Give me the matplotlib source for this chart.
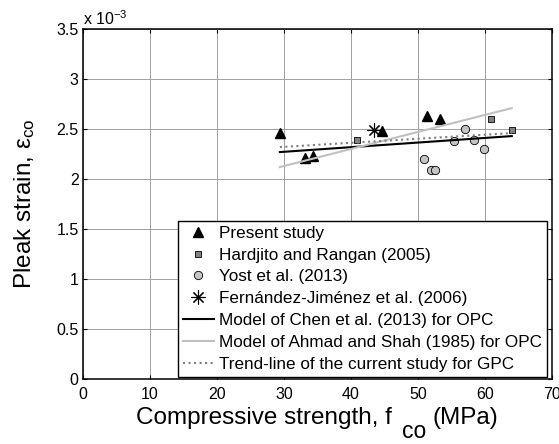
import numpy as np
import matplotlib
matplotlib.use("Agg")
from matplotlib import pyplot as plt

plt.rcParams['font.family'] = ['Liberation Sans', 'DejaVu Sans']
plt.rcParams['mathtext.fontset'] = 'custom'
plt.rcParams['mathtext.rm'] = 'Liberation Sans'
plt.rcParams['mathtext.it'] = 'Liberation Sans'

# peak strain values are in units of 1e-3
present_fc = [29.4, 33.1, 34.4, 44.6, 51.4, 53.3]
present_eps = [2.46, 2.21, 2.23, 2.48, 2.63, 2.60]

hardjito_fc = [40.9, 60.9, 64.0]
hardjito_eps = [2.39, 2.60, 2.49]

yost_fc = [50.9, 51.9, 52.5, 55.4, 57.0, 58.4, 59.9]
yost_eps = [2.20, 2.09, 2.09, 2.38, 2.50, 2.39, 2.30]

fernandez_fc = [43.4]
fernandez_eps = [2.49]

line_fc = [29.4, 64.0]
chen_eps = [2.27, 2.43]
ahmad_eps = [2.12, 2.71]
trend_eps = [2.32, 2.46]

xticks = [0, 10, 20, 30, 40, 50, 60, 70]
yticks = [0, 0.5, 1, 1.5, 2, 2.5, 3, 3.5]
ytick_labels = ['0', '0.5', '1', '1.5', '2', '2.5', '3', '3.5']

W, H = 559, 444
fig = plt.figure(figsize=(W / 100, H / 100), dpi=100)
ax = fig.add_axes([0.148, 0.1464, 0.8395, 0.788])

ax.plot(present_fc, present_eps, '^', color='black', markersize=6.5, label='Present study')
ax.plot(hardjito_fc, hardjito_eps, 's', color='#808080', markeredgecolor='black',
        markeredgewidth=0.6, markersize=5, label='Hardjito and Rangan (2005)')
ax.plot(yost_fc, yost_eps, 'o', color='#c4c4c4', markeredgecolor='black',
        markeredgewidth=0.6, markersize=6, label='Yost et al. (2013)')
ax.plot(fernandez_fc, fernandez_eps, marker=(8, 2, 0), linestyle='none', color='black',
        markeredgewidth=0.8, markersize=10, label='Fernández-Jiménez et al. (2006)')
ax.plot(line_fc, chen_eps, '-', color='black', linewidth=1.5, label='Model of Chen et al. (2013) for OPC')
ax.plot(line_fc, ahmad_eps, '-', color='#c0c0c0', linewidth=1.5, label='Model of Ahmad and Shah (1985) for OPC')
ax.plot(line_fc, trend_eps, ':', color='#808080', linewidth=1.5, label='Trend-line of the current study for GPC')

ax.set_xlim(0, 70)
ax.set_ylim(0, 3.5)
ax.set_xticks(xticks)
ax.set_yticks(yticks)
ax.set_yticklabels(ytick_labels)
ax.tick_params(direction='in', length=3, width=0.8, top=True, right=True, labelsize=11.5)
ax.tick_params(axis='x', pad=6)
ax.tick_params(axis='y', pad=3)
ax.grid(True, color='#a0a0a0', linewidth=0.7)
ax.set_axisbelow(True)
for s in ax.spines.values():
    s.set_linewidth(1.1)

ax.set_ylabel('Pleak strain, ε$_{\\rm co}$', fontsize=17.5, labelpad=14)
ax.text(0.0, 1.013, 'x 10$^{-3}$', transform=ax.transAxes, fontsize=11.5, ha='left', va='baseline')

leg = ax.legend(loc='lower right', bbox_to_anchor=(0.989, 0.006), borderaxespad=0,
                fontsize=12.3, handlelength=1.8, handletextpad=0.3, labelspacing=0.4,
                borderpad=0.3, fancybox=False, framealpha=1, edgecolor='black')
leg.get_frame().set_linewidth(1.0)

# x label with a full-size lowered subscript, built from three pieces
fig.canvas.draw()
r = fig.canvas.get_renderer()
base_y = (H - 424) / H
sub_y = (H - 438) / H
t1 = fig.text(0, base_y, 'Compressive strength, f', fontsize=17.5, va='baseline')
t2 = fig.text(0, sub_y, 'co', fontsize=16.5, va='baseline')
t3 = fig.text(0, base_y, '(MPa)', fontsize=17.5, va='baseline')
w1 = t1.get_window_extent(r).width
w2 = t2.get_window_extent(r).width
w3 = t3.get_window_extent(r).width
gap1, gap2 = 10, 6
total = w1 + gap1 + w2 + gap2 + w3
ax_bb = ax.get_window_extent(r)
x0 = (ax_bb.x0 + ax_bb.x1) / 2 - total / 2
t1.set_x(x0 / W)
t2.set_x((x0 + w1 + gap1) / W)
t3.set_x((x0 + w1 + gap1 + w2 + gap2) / W)

plt.savefig('out.png', dpi=100)
